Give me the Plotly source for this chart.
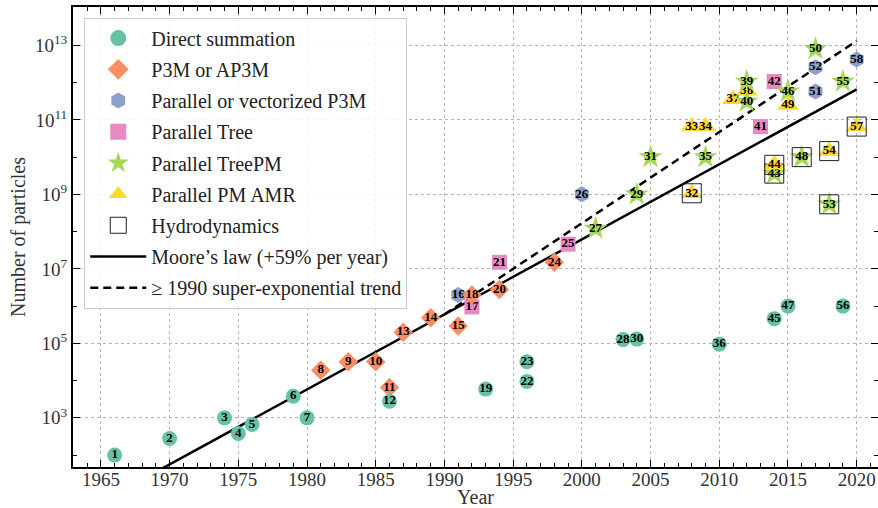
import plotly.graph_objects as go
import numpy as np

# ---------------- data ----------------
point_id = list(range(1, 59))
point_year = [1966, 1970, 1974, 1975, 1976, 1979, 1980, 1981, 1983, 1985,
              1986, 1986, 1987, 1989, 1991, 1991, 1992, 1992, 1993, 1994,
              1994, 1996, 1996, 1998, 1999, 2000, 2001, 2003, 2004, 2004,
              2005, 2008, 2008, 2009, 2009, 2010, 2011, 2012, 2012, 2012,
              2013, 2014, 2014, 2014, 2014, 2015, 2015, 2016, 2015, 2017,
              2017, 2017, 2018, 2018, 2019, 2019, 2020, 2020]
point_count = [1e2, 2.8e2, 1e3, 3.8e2, 6.6e2, 3.8e3, 1e3, 1.9e4, 3.2e4, 3.2e4,
               6.5e3, 2.8e3, 2e5, 4.9e5, 2.9e5, 2e6, 9.5e5, 2e6, 5.9e3, 2.8e6,
               1.5e7, 9.5e3, 3.2e4, 1.5e7, 4.6e7, 1e9, 1.2e8, 1.26e5, 1e9, 1.3e5,
               1e10, 1.07e9, 6.6e10, 6.6e10, 1e10, 9.5e4, 3.6e11, 6e11, 1.07e12, 3.1e11,
               6.6e10, 1.07e12, 3.6e9, 6.2e9, 4.6e5, 5.8e11, 1e6, 1e10, 2.5e11, 8e12,
               5.8e11, 2.6e12, 5.4e8, 1.45e10, 1.07e12, 1e6, 6.6e10, 4.2e12]
point_method = ['D', 'D', 'D', 'D', 'D', 'D', 'D', 'P', 'P', 'P',
                'P', 'D', 'P', 'P', 'P', 'V', 'T', 'P', 'D', 'P',
                'T', 'D', 'D', 'P', 'T', 'V', 'M', 'D', 'M', 'D',
                'M', 'A', 'A', 'A', 'M', 'D', 'A', 'A', 'M', 'M',
                'T', 'T', 'M', 'A', 'D', 'M', 'D', 'M', 'A', 'M',
                'V', 'V', 'M', 'A', 'M', 'D', 'A', 'V']
hydro_ids = [32, 43, 44, 48, 53, 54, 57]

method_codes = ['D', 'P', 'V', 'T', 'M', 'A']
method_names = ['Direct summation', 'P3M or AP3M', 'Parallel or vectorized P3M',
                'Parallel Tree', 'Parallel TreePM', 'Parallel PM AMR']
hydro_name = 'Hydrodynamics'

moore_name = "Moore\u2019s law (+59% per year)"
moore_growth = 0.59
moore_anchor_year = 2020
moore_anchor_count = 6.6e11
moore_first_year = 1969

trend_name = "\u2265 1990 super-exponential trend"
trend_start_year = 1990
trend_growth = 0.757

x_ticks = [1965, 1970, 1975, 1980, 1985, 1990, 1995, 2000, 2005, 2010, 2015, 2020]
y_tick_exp = [3, 5, 7, 9, 11, 13]
y_minor_exp = [2, 4, 6, 8, 10, 12]

# ---------------- styles ----------------
FONT = 'Liberation Serif'
style = {
    'D': dict(symbol='circle', color='#66c2a5', size=15),
    'P': dict(symbol='diamond', color='#fc8d62', size=15),
    'V': dict(symbol='hexagon', color='#8da0cb', size=16),
    'T': dict(symbol='square', color='#e78ac3', size=15),
    'M': dict(symbol='star', color='#a6d854', size=18),
    'A': dict(symbol='triangle-up', color='#ffd92f', size=19),
}
hydro_style = dict(symbol='square-open', color='#222222', size=19, line=dict(width=1))
label_font = dict(family=FONT, size=13, color='black', weight='bold')

fig = go.Figure()

# trend lines (drawn below markers)
moore_years = np.arange(moore_first_year, moore_anchor_year + 1)
moore_vals = moore_anchor_count * (1 + moore_growth) ** (moore_years - moore_anchor_year)
fig.add_trace(go.Scatter(x=moore_years, y=moore_vals, mode='lines', name=moore_name,
                         line=dict(color='black', width=2.5), legendrank=8, legendgroup='g8',
                         hoverinfo='skip'))
trend_start_val = moore_anchor_count * (1 + moore_growth) ** (trend_start_year - moore_anchor_year)
trend_years = np.arange(trend_start_year, moore_anchor_year + 1)
trend_vals = trend_start_val * (1 + trend_growth) ** (trend_years - trend_start_year)
fig.add_trace(go.Scatter(x=trend_years, y=trend_vals, mode='lines', name=trend_name,
                         line=dict(color='black', width=2.5, dash='8px,5px'), legendrank=9,
                         legendgroup='g9', hoverinfo='skip'))

# points, one by one in numbering order
for pid, yr, cnt, m in zip(point_id, point_year, point_count, point_method):
    st = style[m]
    is_hydro = pid in hydro_ids
    fig.add_trace(go.Scatter(
        x=[yr], y=[cnt], mode='markers' if is_hydro else 'markers+text',
        text=[str(pid)], textposition='middle center', textfont=label_font,
        marker=dict(symbol=st['symbol'], color=st['color'], size=st['size'], line=dict(width=0)),
        showlegend=False, hoverinfo='skip'))
    if is_hydro:
        fig.add_trace(go.Scatter(
            x=[yr], y=[cnt], mode='markers+text', text=[str(pid)],
            textposition='middle center', textfont=label_font,
            marker=hydro_style, showlegend=False, hoverinfo='skip'))

# legend entries
for i, (code, name) in enumerate(zip(method_codes, method_names)):
    st = style[code]
    fig.add_trace(go.Scatter(x=[None], y=[None], mode='markers', name=name,
                             marker=dict(symbol=st['symbol'], color=st['color'], size=16),
                             legendrank=i + 1, legendgroup='g%d' % (i + 1)))
fig.add_trace(go.Scatter(x=[None], y=[None], mode='markers', name=hydro_name,
                         marker=dict(symbol='square-open', color='#222222', size=16, line=dict(width=1)),
                         legendrank=7, legendgroup='g7'))

axis_common = dict(
    showline=True, linecolor='black', linewidth=2, mirror='allticks',
    ticks='inside', tickcolor='black', tickwidth=1.2, ticklen=7,
    showgrid=True, gridcolor='#b5b5b5', griddash='dot', gridwidth=1,
    zeroline=False, automargin=False,
    tickfont=dict(family=FONT, size=19, color='#333333'),
)

fig.update_xaxes(
    range=[1962.97, 2021.55], tickmode='array', tickvals=x_ticks,
    ticktext=[str(v) for v in x_ticks], ticklabelstandoff=-6,
    minor=dict(dtick=1, tick0=1965, ticks='inside', ticklen=4, tickcolor='black', tickwidth=1.2,
               showgrid=False),
    title=dict(text='Year', font=dict(family=FONT, size=20, color='#333333'), standoff=0),
    **axis_common)
fig.update_yaxes(
    type='log', range=[1.68, 14.03], tickmode='array',
    tickvals=[10 ** e for e in y_tick_exp],
    ticktext=['10<sup>%d</sup>' % e for e in y_tick_exp],
    minor=dict(tickmode='array', tickvals=[10 ** e for e in y_minor_exp], ticks='inside',
               ticklen=4, tickcolor='black', tickwidth=1.2, showgrid=False),
    title=dict(text='Number of particles', font=dict(family=FONT, size=20, color='#333333'), standoff=4),
    **axis_common)

fig.update_layout(
    width=878, height=508,
    margin=dict(l=73, r=0, t=7, b=41),
    paper_bgcolor='white', plot_bgcolor='white',
    legend=dict(x=0.014, y=0.977, xanchor='left', yanchor='top',
                bgcolor='rgba(255,255,255,0.85)', bordercolor='#cccccc', borderwidth=1,
                font=dict(family=FONT, size=20, color='#222222'),
                tracegroupgap=2.2, itemwidth=56),
    showlegend=True,
)

fig.write_html('out.html', config={'displayModeBar': False},
               post_script="document.body.style.margin='0';document.body.style.overflow='hidden';")
